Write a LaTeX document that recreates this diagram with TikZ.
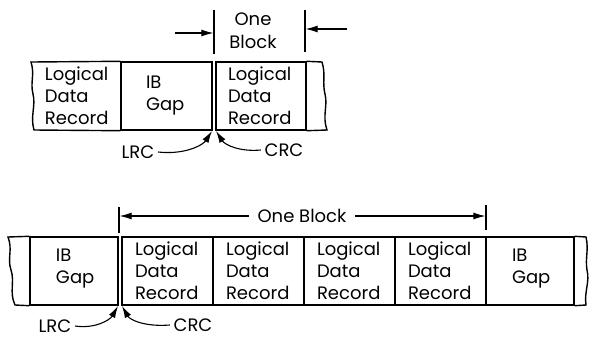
\documentclass[tikz,border=0pt]{standalone}
\usepackage{fontspec}
\setmainfont{Poppins}
\usetikzlibrary{arrows.meta}
\begin{document}
\begin{tikzpicture}[x=1pt,y=-1pt,line width=1.4pt,
  cell/.style={rectangle,draw,inner sep=0pt,minimum height=68pt},
  txt/.style={anchor=west,inner sep=0pt,align=left,font=\fontsize{18}{22}\selectfont},
  lab/.style={inner sep=0pt,font=\fontsize{18}{22}\selectfont},
  tip/.style={line width=1.1pt,-{Latex[length=12pt,width=7pt]}},
  lead/.style={line width=1.1pt,-{Latex[length=12pt,width=7pt]}}]
\useasboundingbox (0,0) rectangle (590,341);
% ---------- top strip ----------
\node[cell,draw=none,minimum width=88pt] (tL1) at (77,96) {};
\node[cell,minimum width=91pt] (tIB) at (166.5,96) {};
\node[cell,minimum width=90pt] (tL2) at (261,96) {};
\draw (tIB.north west) -- (31,62) .. controls (35,75) and (30,82) .. (33,94)
      .. controls (36,106) and (30,116) .. (34,130) -- (tIB.south west);
\draw (tL2.north east) -- (322,62) .. controls (326,75) and (322,82) .. (325,94)
      .. controls (328,106) and (322,116) .. (327,130) -- (tL2.south east);
\node[txt] (tL1t) at ([xshift=12pt]tL1.west) {Logical\\Data\\Record};
\node[txt] (tIBt) at ([xshift=25pt]tIB.west) {IB\\Gap};
\node[txt] (tL2t) at ([xshift=12pt]tL2.west) {Logical\\Data\\Record};
\draw (tIB.north east) ++(4,0) -- ++(0,68);
% dimension
\coordinate (tk1a) at (214,10); \coordinate (tk1b) at (214,54);
\coordinate (tk2a) at (305,10); \coordinate (tk2b) at (305,52);
\draw[line width=1.1pt] (tk1a) -- (tk1b);
\draw[line width=1.1pt] (tk2a) -- (tk2b);
\coordinate (ta1) at (175,33); \coordinate (ta2) at (213.4,33);
\coordinate (tb1) at (347,29); \coordinate (tb2) at (305.6,29);
\draw[tip] (ta1) -- (ta2);
\draw[tip] (tb1) -- (tb2);
\node[lab,align=center,font=\fontsize{18}{23}\selectfont] (tone) at (253,31) {One\\Block};
% LRC / CRC
\node[lab] (tLRC) at (138,152) {LRC};
\node[lab] (tCRC) at (284,150) {CRC};
\coordinate (tlt) at (212,131);
\coordinate (tct) at (216,131);
\draw[lead] (tLRC.east) ++(3,0) .. controls (185,155) and (203,145) .. (tlt);
\draw[lead] (tCRC.west) ++(-3,0) .. controls (240,152) and (225,145) .. (tct);
% ---------- bottom strip ----------
\node[cell,minimum width=88pt] (bIB1) at (74,271) {};
\node[cell,minimum width=91pt] (bL1) at (167.5,271) {};
\node[cell,minimum width=91pt] (bL2) at (258.5,271) {};
\node[cell,minimum width=91pt] (bL3) at (349.5,271) {};
\node[cell,minimum width=91pt] (bL4) at (440.5,271) {};
\node[cell,minimum width=88pt] (bIB2) at (530,271) {};
\draw (bIB1.north west) -- (8,237) .. controls (13,250) and (7,258) .. (11,270)
      .. controls (15,282) and (9,292) .. (15,305) -- (bIB1.south west);
\draw (bIB2.north east) -- (586,237) .. controls (589,250) and (585,258) .. (587,270)
      .. controls (590,282) and (584,292) .. (586,305) -- (bIB2.south east);
\draw (bIB1.north east) ++(4,0) -- ++(0,68);
\node[txt] (bIB1t) at ([xshift=26pt,yshift=2pt]bIB1.west) {IB\\Gap};
\node[txt] (bL1t) at ([xshift=13pt]bL1.west) {Logical\\Data\\Record};
\node[txt] (bL2t) at ([xshift=13pt]bL2.west) {Logical\\Data\\Record};
\node[txt] (bL3t) at ([xshift=13pt]bL3.west) {Logical\\Data\\Record};
\node[txt] (bL4t) at ([xshift=13pt]bL4.west) {Logical\\Data\\Record};
\node[txt] (bIB2t) at ([xshift=26pt,yshift=2pt]bIB2.west) {IB\\Gap};
% dimension
\coordinate (bk1a) at (119,207); \coordinate (bk1b) at (119,233);
\coordinate (bk2a) at (486,205); \coordinate (bk2b) at (486,230);
\draw[line width=1.1pt] (bk1a) -- (bk1b);
\draw[line width=1.1pt] (bk2a) -- (bk2b);
\node[lab] (bone) at (302,216) {One Block};
\coordinate (bl) at (119.6,216); \coordinate (br) at (485.4,216);
\draw[tip] ([xshift=-8pt]bone.west) -- (bl);
\draw[tip] ([xshift=8pt]bone.east) -- (br);
% LRC / CRC
\node[lab] (bLRC) at (55,326) {LRC};
\node[lab] (bCRC) at (193,325) {CRC};
\coordinate (blt) at (118,306);
\coordinate (bct) at (122,306);
\draw[lead] (bLRC.east) ++(3,0) .. controls (95,329) and (110,320) .. (blt);
\draw[lead] (bCRC.west) ++(-3,0) .. controls (145,327) and (130,320) .. (bct);
\end{tikzpicture}
\end{document}
